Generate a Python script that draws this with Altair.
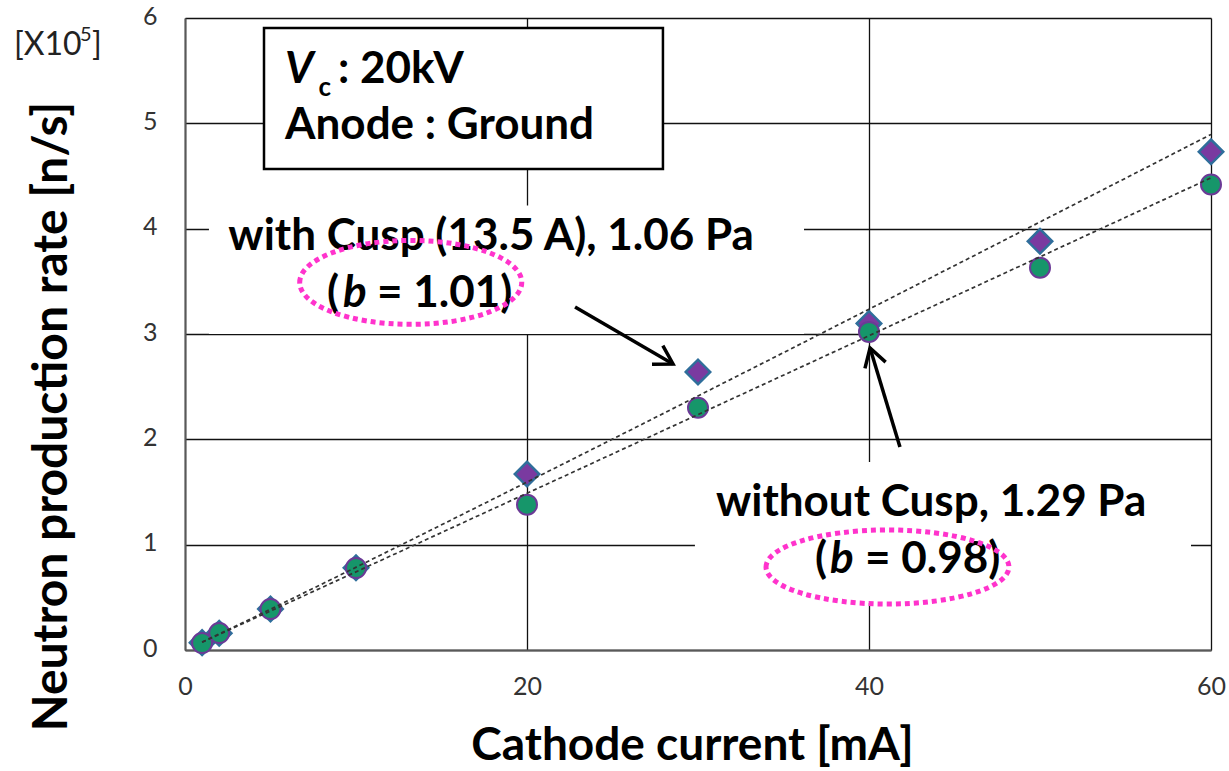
import altair as alt
import pandas as pd

# ---------------- data ----------------
current_mA = [1, 2, 5, 10, 20, 30, 40, 50, 60]
rate_with_cusp = [0.07, 0.16, 0.39, 0.78, 1.67, 2.64, 3.10, 3.88, 4.73]
rate_without_cusp = [0.066, 0.161, 0.389, 0.778, 1.38, 2.30, 3.02, 3.63, 4.42]

x_ticks = [0, 20, 40, 60]
y_ticks = [0, 1, 2, 3, 4, 5, 6]

# annotation anchors (data units)
white_x = [1.40, 29.82]
white_x2 = [36.20, 58.83]
white_y = [4.22, 1.785]
white_y2 = [3.0, 0.446]

info_x, info_x2, info_y, info_y2 = [4.62], [27.95], [5.905], [4.567]

big_text = ["with Cusp (13.5 A), 1.06 Pa", "without Cusp, 1.29 Pa"]
big_text_x = [17.9, 43.63]
big_text_y = [3.80, 1.272]

paren_text = ["(", "("]
paren_x = [8.30, 36.84]
paren_y = [3.256, 0.731]
b_text = ["b", "b"]
b_x = [9.24, 37.72]
b_y = [3.256, 0.731]
val_text = ["= 1.01)", "= 0.98)"]
val_x = [11.23, 39.77]
val_y = [3.256, 0.731]

arrow_x = [22.81, 41.81]
arrow_y = [3.256, 1.927]
arrow_x2 = [28.54, 40.06]
arrow_y2 = [2.715, 2.867]
arrow_angle = [30, 253]

ell_x = [13.2, 41.08]
ell_y = [3.49, 0.788]

XS = alt.Scale(domain=[0, 60], nice=False, zero=False)
YS = alt.Scale(domain=[0, 6], nice=False, zero=False)
FONT = "Lato"

X_AXIS = alt.Axis(
    values=x_ticks, title="Cathode current [mA]", grid=True, gridColor="#111111",
    gridWidth=1.3, domainColor="#595959", domainWidth=2, ticks=False, tickSize=0,
    labelFont=FONT, labelFontSize=25, labelColor="#333333", labelPadding=24,
    labelFlush=False, labelOverlap=False,
    titleFont=FONT, titleFontSize=46, titleFontWeight="bold", titleColor="black",
    titleX=507, titleY=95, titleBaseline="middle", titleAlign="center",
)
Y_AXIS = alt.Axis(
    values=y_ticks, title="Neutron production rate [n/s]", grid=True, gridColor="#111111",
    gridWidth=1.3, domainColor="#595959", domainWidth=2, ticks=False, tickSize=0,
    labelFont=FONT, labelFontSize=25, labelColor="#333333", labelPadding=28,
    labelOffset=-2, labelOverlap=False,
    titleFont=FONT, titleFontSize=48, titleFontWeight="bold", titleColor="black",
    titleX=-133, titleY=398, titleBaseline="middle", titleAlign="center", titleAngle=270,
)


def ellipse_path(k):
    c = 0.5523
    return (f"M -1 0 C -1 {-c*k:.4f} {-c:.4f} {-k:.4f} 0 {-k:.4f} "
            f"C {c:.4f} {-k:.4f} 1 {-c*k:.4f} 1 0 "
            f"C 1 {c*k:.4f} {c:.4f} {k:.4f} 0 {k:.4f} "
            f"C {-c:.4f} {k:.4f} -1 {c*k:.4f} -1 0 Z")


def xenc(field="x"):
    return alt.X(f"{field}:Q", scale=XS, axis=X_AXIS)


def yenc(field="y"):
    return alt.Y(f"{field}:Q", scale=YS, axis=Y_AXIS)


def text_layer(labels, xs_, ys_, size, weight="bold", style="normal",
               align="left", baseline="alphabetic", color="black"):
    df = pd.DataFrame({"x": xs_, "y": ys_, "label": labels})
    return alt.Chart(df).mark_text(
        font=FONT, fontSize=size, fontWeight=weight, fontStyle=style,
        align=align, baseline=baseline, color=color
    ).encode(x=xenc(), y=yenc(), text="label:N")


df_with = pd.DataFrame({"x": current_mA, "y": rate_with_cusp, "series": "with"})
df_without = pd.DataFrame({"x": current_mA, "y": rate_without_cusp, "series": "without"})
df_all = pd.concat([df_with, df_without], ignore_index=True)

# white boxes that hide grid lines behind the labels
white = alt.Chart(pd.DataFrame({"x": white_x, "x2": white_x2, "y": white_y, "y2": white_y2})).mark_rect(
    fill="white", stroke=None
).encode(x=xenc(), x2="x2:Q", y=yenc(), y2="y2:Q")

info = alt.Chart(pd.DataFrame({"x": info_x, "x2": info_x2, "y": info_y, "y2": info_y2})).mark_rect(
    fill="white", stroke="black", strokeWidth=2.5
).encode(x=xenc(), x2="x2:Q", y=yenc(), y2="y2:Q")

diamonds = alt.Chart(df_with).mark_point(
    shape="diamond", size=600, filled=True, fill="#7a3aa0", stroke="#2f6e9b",
    strokeWidth=2.5, opacity=1
).encode(x=xenc(), y=yenc())

circles = alt.Chart(df_without).mark_point(
    shape="circle", size=400, filled=True, fill="#16966a", stroke="#6b3a96",
    strokeWidth=2, opacity=1
).encode(x=xenc(), y=yenc())

fits = alt.Chart(df_all).transform_regression(
    "x", "y", method="pow", groupby=["series"]
).mark_line(color="#333333", strokeDash=[4, 3], strokeWidth=1.7).encode(
    x=xenc(), y=yenc(), detail="series:N"
)

info_texts = alt.layer(
    text_layer(["V"], [5.85], [5.383], 44, style="italic"),
    text_layer(["c"], [7.8], [5.262], 26),
    text_layer([": 20kV"], [8.95], [5.383], 44),
    text_layer(["Anode : Ground"], [5.85], [4.851], 44),
)

labels = alt.layer(
    text_layer(big_text, big_text_x, big_text_y, 44, align="center"),
    text_layer(paren_text, paren_x, paren_y, 44),
    text_layer(b_text, b_x, b_y, 44, style="italic"),
    text_layer(val_text, val_x, val_y, 44),
)

unit_text = alt.layer(
    text_layer(["[X10"], [-10.0], [5.65], 32, weight="normal", color="#222222"),
    text_layer(["5"], [-6.14], [5.78], 20, weight="normal", color="#222222"),
    text_layer(["]"], [-5.44], [5.65], 32, weight="normal", color="#222222"),
)

arrow_df = pd.DataFrame({"x": arrow_x, "y": arrow_y, "x2": arrow_x2, "y2": arrow_y2,
                         "angle": arrow_angle})
shafts = alt.Chart(arrow_df).mark_rule(color="black", strokeWidth=3.5).encode(
    x=xenc(), y=yenc(), x2="x2:Q", y2="y2:Q"
)
heads = alt.Chart(arrow_df).mark_point(
    shape="M -1 -0.6 L 0 0 L -1 0.6", size=1300, filled=False, stroke="black",
    strokeWidth=3.5, opacity=1
).encode(x=xenc("x2"), y=yenc("y2"), angle=alt.Angle("angle:Q", scale=None))

ell1 = alt.Chart(pd.DataFrame({"x": ell_x[:1], "y": ell_y[:1]})).mark_point(
    shape=ellipse_path(0.378), size=49300, filled=False, stroke="#ff33cc",
    strokeWidth=5, strokeDash=[5, 4], opacity=1
).encode(x=xenc(), y=yenc())
ell2 = alt.Chart(pd.DataFrame({"x": ell_x[1:], "y": ell_y[1:]})).mark_point(
    shape=ellipse_path(0.305), size=59000, filled=False, stroke="#ff33cc",
    strokeWidth=5, strokeDash=[5, 4], opacity=1
).encode(x=xenc(), y=yenc())

chart = alt.layer(
    white, info, diamonds, circles, fits, info_texts, labels, unit_text,
    shafts, heads, ell1, ell2
).properties(
    width=1026, height=632,
    padding={"left": 185, "top": 18, "right": 18, "bottom": 121},
    autosize=alt.AutoSizeParams(type="none"),
    background="white",
).configure_view(stroke=None)

chart.save("out.html", embed_options={"renderer": "svg", "actions": False})
